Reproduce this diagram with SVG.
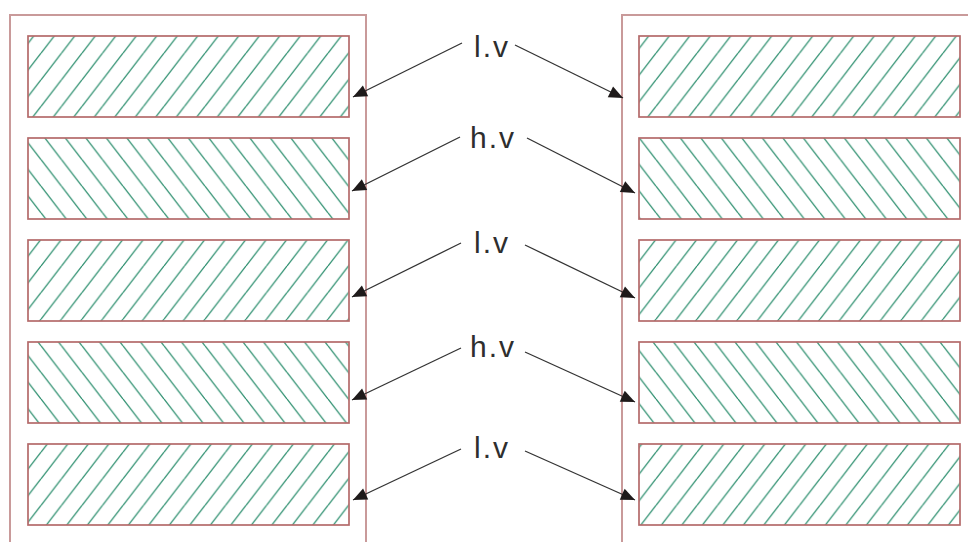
<svg xmlns="http://www.w3.org/2000/svg" width="968" height="542" viewBox="0 0 968 542">
<style>
.outer{fill:none;stroke:#c99a9a;stroke-width:2}
.fwd{fill:url(#hatchF);stroke:#b46a6a;stroke-width:1.7}
.back{fill:url(#hatchB);stroke:#b46a6a;stroke-width:1.7}
.lbl{font-family:"Liberation Sans",Arial,sans-serif;font-size:30px;fill:#2e2e2e;text-anchor:middle;letter-spacing:2px}
.conn{stroke:#333;stroke-width:1.3;fill:none;marker-end:url(#arr)}
</style>
<defs>
<pattern id="hatchF" patternUnits="userSpaceOnUse" width="20.5" height="26.6">
<path d="M0,26.6 L20.5,0 M-20.5,26.6 L0,0 M20.5,26.6 L41,0" stroke="#2f9070" stroke-width="1.3"/>
</pattern>
<pattern id="hatchB" patternUnits="userSpaceOnUse" width="20.5" height="26.6">
<path d="M0,0 L20.5,26.6 M-20.5,0 L0,26.6 M20.5,0 L41,26.6" stroke="#2f9070" stroke-width="1.3"/>
</pattern>
<marker id="arr" markerUnits="userSpaceOnUse" markerWidth="17" markerHeight="13" refX="15" refY="6.5" orient="auto" viewBox="0 0 17 13">
<path d="M1,0.5 L15,6.5 L1,12.5 z" fill="#1e1a1a"/>
</marker>
</defs>
<g id="left-panel">
<path class="outer" d="M10,542 V15 H366 V542"/>
<rect class="fwd" x="28" y="36" width="321" height="81"/>
<rect class="back" x="28" y="138" width="321" height="81"/>
<rect class="fwd" x="28" y="240" width="321" height="81"/>
<rect class="back" x="28" y="342" width="321" height="81"/>
<rect class="fwd" x="28" y="444" width="321" height="81"/>
</g>
<g id="right-panel">
<path class="outer" d="M622,542 V15 H970"/>
<rect class="fwd" x="639" y="36" width="321" height="81"/>
<rect class="back" x="639" y="138" width="321" height="81"/>
<rect class="fwd" x="639" y="240" width="321" height="81"/>
<rect class="back" x="639" y="342" width="321" height="81"/>
<rect class="fwd" x="639" y="444" width="321" height="81"/>
</g>
<g id="label-1"><text class="lbl" x="492" y="57">l.v</text></g>
<g id="label-2"><text class="lbl" x="493" y="148">h.v</text></g>
<g id="label-3"><text class="lbl" x="492" y="253">l.v</text></g>
<g id="label-4"><text class="lbl" x="493" y="357">h.v</text></g>
<g id="label-5"><text class="lbl" x="492" y="458">l.v</text></g>
<g id="connectors">
<line class="conn" x1="462" y1="43" x2="353" y2="97"/>
<line class="conn" x1="515" y1="45" x2="623" y2="98"/>
<line class="conn" x1="460" y1="137" x2="352" y2="191"/>
<line class="conn" x1="527" y1="138" x2="635" y2="193"/>
<line class="conn" x1="461" y1="243" x2="352" y2="297"/>
<line class="conn" x1="525" y1="245" x2="635" y2="298"/>
<line class="conn" x1="461" y1="348" x2="352" y2="400"/>
<line class="conn" x1="525" y1="352" x2="635" y2="402"/>
<line class="conn" x1="461" y1="449" x2="353" y2="500"/>
<line class="conn" x1="525" y1="451" x2="635" y2="500"/>
</g>
</svg>
